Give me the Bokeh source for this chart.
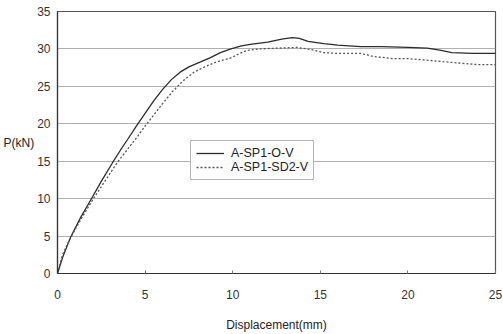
from bokeh.plotting import figure
from bokeh.models import Legend, LegendItem, FixedTicker, Range1d
from bokeh.embed import file_html
from bokeh.resources import INLINE

# Load-displacement curves (displacement in mm, load in kN)
disp_o = [0, 0.3, 0.74, 1.3, 1.88, 2.5, 3.14, 3.6, 4.0, 4.5, 5.0, 5.5, 6.0, 6.5,
          7.0, 7.5, 8.0, 8.7, 9.3, 9.9, 10.5, 11.0, 12.0, 12.8, 13.4, 13.8, 14.3,
          15.2, 16.0, 17.3, 18.5, 20.0, 21.1, 21.9, 22.5, 23.7, 25.0]
load_o = [0, 2.2, 4.8, 7.4, 9.75, 12.3, 14.8, 16.5, 17.9, 19.7, 21.4, 23.1, 24.6, 25.9,
          26.9, 27.6, 28.1, 28.8, 29.5, 30.0, 30.4, 30.6, 30.9, 31.3, 31.5, 31.4, 31.0,
          30.7, 30.5, 30.3, 30.3, 30.2, 30.1, 29.8, 29.5, 29.4, 29.4]

disp_sd2 = [0, 0.3, 0.8, 1.4, 2.05, 2.7, 3.4, 4.0, 4.6, 5.0, 5.5, 6.0, 6.6, 7.2,
            7.8, 8.4, 8.9, 9.4, 9.9, 10.4, 10.8, 11.5, 12.5, 13.7, 14.5, 15.2, 16.0,
            17.3, 18.0, 19.2, 20.0, 21.1, 22.0, 23.0, 24.0, 25.0]
load_sd2 = [0, 2.6, 5.0, 7.5, 10.0, 12.3, 14.8, 16.6, 18.4, 19.7, 21.2, 22.7, 24.4, 25.8,
            26.9, 27.6, 28.1, 28.5, 28.8, 29.4, 29.8, 30.0, 30.1, 30.2, 29.9, 29.5, 29.4,
            29.4, 29.0, 28.7, 28.7, 28.5, 28.3, 28.1, 27.9, 27.9]

series_names = ["A-SP1-O-V", "A-SP1-SD2-V"]
x_ticks = [0, 5, 10, 15, 20, 25]
y_ticks = [0, 5, 10, 15, 20, 25, 30, 35]

FONT = "Liberation Sans"

p = figure(width=503, height=334, output_backend="svg", toolbar_location=None,
           x_range=Range1d(0, 25), y_range=Range1d(0, 35),
           min_border_left=57, min_border_right=8, min_border_top=11,
           min_border_bottom=61)

p.background_fill_color = "white"
p.border_fill_color = "white"
p.outline_line_color = "#555555"
p.outline_line_width = 1.2

p.xgrid.grid_line_color = None
p.ygrid.grid_line_color = "#b0b0b0"
p.ygrid.grid_line_width = 1

p.xaxis.ticker = FixedTicker(ticks=x_ticks)
p.yaxis.ticker = FixedTicker(ticks=y_ticks)

for ax in (p.xaxis, p.yaxis):
    ax.axis_line_color = "#333333"
    ax.axis_line_width = 1.2
    ax.major_tick_line_color = "#777777"
    ax.major_tick_in = 3
    ax.major_tick_out = 0
    ax.minor_tick_line_color = None
    ax.major_label_text_font = FONT
    ax.major_label_text_font_size = "12px"
    ax.major_label_text_color = "#333333"
    ax.axis_label_text_font = FONT
    ax.axis_label_text_font_size = "12px"
    ax.axis_label_text_font_style = "normal"
    ax.axis_label_text_color = "#222222"

p.yaxis.major_tick_line_color = None
p.xaxis.major_label_standoff = 16
p.yaxis.major_label_standoff = 7

p.xaxis.axis_label = "Displacement(mm)"
p.xaxis.axis_label_standoff = 16
p.yaxis.axis_label = "P(kN)"
p.yaxis.axis_label_orientation = "horizontal"
p.yaxis.axis_label_standoff = 0

r1 = p.line(disp_o, load_o, line_color="#2b2b2b", line_width=1.3)
r2 = p.line(disp_sd2, load_sd2, line_color="#555555", line_width=1.3,
            line_dash="2 2")

legend = Legend(items=[LegendItem(label=series_names[0], renderers=[r1]),
                       LegendItem(label=series_names[1], renderers=[r2])],
                location=(133, 93))
legend.label_text_font = FONT
legend.label_text_font_size = "12.5px"
legend.label_text_color = "#222222"
legend.border_line_color = "#666666"
legend.border_line_width = 1
legend.background_fill_color = "white"
legend.background_fill_alpha = 1
legend.glyph_width = 28
legend.glyph_height = 12
legend.label_height = 12
legend.spacing = 0
legend.padding = 5
legend.margin = 0
legend.label_standoff = 7
p.add_layout(legend, "center")

open("out.html", "w").write(file_html(p, INLINE))
